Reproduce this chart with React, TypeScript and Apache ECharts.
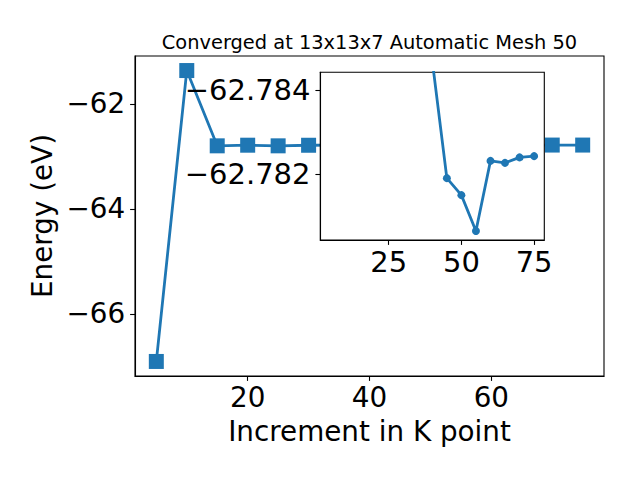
import React, { useEffect, useRef } from "react";
import * as echarts from "echarts";

const kPoints = [5, 10, 15, 20, 25, 30, 35, 40, 45, 50, 55, 60, 65, 70, 75];
const energies = [
  -66.904, -61.363, -62.797, -62.785, -62.797, -62.786, -62.783, -62.7847,
  -62.781905, -62.7815, -62.780643, -62.782317, -62.78227, -62.7824, -62.78243,
];
const insetKPoints = [40, 45, 50, 55, 60, 65, 70, 75];
const mainXTicks = [20, 40, 60];
const mainYTicks = [-66, -64, -62];
const insetXTicks = [25, 50, 75];
const insetYTicks = [-62.784, -62.782];

const titleText = "Converged at 13x13x7 Automatic Mesh 50";
const xLabelText = "Increment in K point";
const yLabelText = "Energy (eV)";

const FONT = "DejaVu Sans";
const BLUE = "#1f77b4";
const minus = (s: string) => s.replace("-", "\u2212");

export default function App() {
  const ref = useRef<HTMLDivElement>(null);
  useEffect(() => {
    if (!ref.current) return;
    const chart = echarts.init(ref.current, undefined, { renderer: "svg" });
    const data = kPoints.map((k, i) => [k, energies[i]]);
    const insetData = data.filter((d) => insetKPoints.includes(d[0]));
    const axisCommon = (
      ticks: number[],
      fmt: (v: number) => string,
      z: number,
      fontSize: number,
      margin: number
    ) => ({
      type: "value" as const,
      z,
      splitLine: { show: false },
      axisLine: { show: true, lineStyle: { color: "#000", width: 1.1 } },
      axisTick: {
        show: true,
        length: 4.9,
        inside: false,
        customValues: ticks,
        lineStyle: { color: "#000", width: 1.1 },
      },
      axisLabel: {
        show: true,
        customValues: ticks,
        margin,
        color: "#000",
        fontFamily: FONT,
        fontSize,
        formatter: fmt,
      },
    });
    const intFmt = (v: number) => minus(String(Math.round(v)));
    chart.setOption({
      animation: false,
      backgroundColor: "#fff",
      grid: [
        {
          left: 135,
          top: 56,
          width: 469,
          height: 320,
          show: true,
          borderColor: "#000",
          borderWidth: 1.1,
          backgroundColor: "transparent",
          z: 0,
        },
        {
          left: 320.3,
          top: 72.3,
          width: 224,
          height: 167.7,
          show: true,
          borderColor: "#000",
          borderWidth: 1.1,
          backgroundColor: "#fff",
          z: 10,
        },
      ],
      xAxis: [
        { ...axisCommon(mainXTicks, intFmt, 1, 27.8, 7), gridIndex: 0, min: 1.5, max: 78.5 },
        { ...axisCommon(insetXTicks, intFmt, 11, 29, 7), gridIndex: 1, min: 1.5, max: 78.5 },
      ],
      yAxis: [
        {
          ...axisCommon(mainYTicks, intFmt, 1, 27.8, 9.8),
          gridIndex: 0,
          min: -67.181,
          max: -61.086,
        },
        {
          ...axisCommon(insetYTicks, (v: number) => minus(v.toFixed(3)), 11, 29, 9.8),
          gridIndex: 1,
          min: -62.78443,
          max: -62.78043,
          inverse: true,
        },
      ],
      series: [
        {
          type: "line",
          xAxisIndex: 0,
          yAxisIndex: 0,
          data,
          z: 2,
          clip: true,
          symbol: "rect",
          symbolSize: 15,
          lineStyle: { color: BLUE, width: 2.8 },
          itemStyle: { color: BLUE },
        },
        {
          type: "line",
          xAxisIndex: 1,
          yAxisIndex: 1,
          data: insetData,
          z: 12,
          clip: true,
          symbol: "circle",
          symbolSize: 8,
          lineStyle: { color: BLUE, width: 2.8 },
          itemStyle: { color: BLUE },
        },
      ],
      graphic: [
        {
          type: "text",
          x: 369.5,
          y: 42.3,
          style: {
            text: titleText,
            fontFamily: FONT,
            fontSize: 19.4,
            fill: "#000",
            align: "center",
            verticalAlign: "middle",
          },
        },
        {
          type: "text",
          x: 369.5,
          y: 431,
          style: {
            text: xLabelText,
            fontFamily: FONT,
            fontSize: 27.8,
            fill: "#000",
            align: "center",
            verticalAlign: "middle",
          },
        },
        {
          type: "text",
          x: 42.5,
          y: 216,
          rotation: Math.PI / 2,
          style: {
            text: yLabelText,
            fontFamily: FONT,
            fontSize: 27.8,
            fill: "#000",
            align: "center",
            verticalAlign: "middle",
          },
        },
      ],
    });
    return () => chart.dispose();
  }, []);
  return (
    <div
      ref={ref}
      style={{ position: "absolute", left: 0, top: 0, width: 640, height: 480 }}
    />
  );
}
